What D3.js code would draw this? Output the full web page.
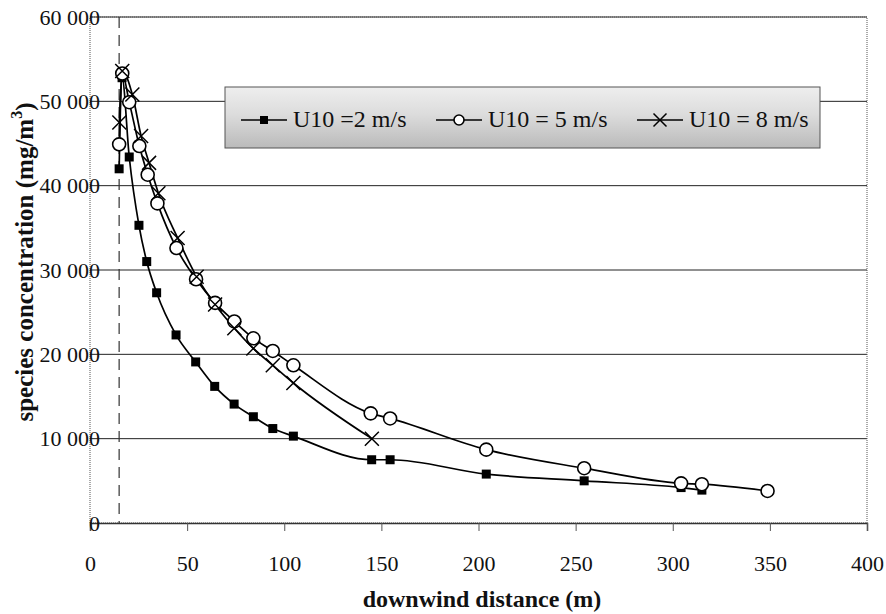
<!DOCTYPE html>
<html>
<head>
<meta charset="utf-8">
<script src="https://cdn.jsdelivr.net/npm/d3@7"></script>
<style>
  body { margin: 0; background: #fff; }
  svg { display: block; }
  svg text { font-family: "Liberation Serif", "Times New Roman", serif; }
</style>
</head>
<body>
<script>
// ---- data ----
const xTicks = [0, 50, 100, 150, 200, 250, 300, 350, 400];
const yTicks = [0, 10000, 20000, 30000, 40000, 50000, 60000];

const dist2 = [15, 16.5, 20.2, 25.2, 29.2, 34.3, 44.3, 54.4, 64.2, 74.2, 84.1, 94.1, 104.7, 145, 154.5, 204, 254.4, 304.3, 315];
const conc2 = [42000, 52800, 43400, 35300, 31000, 27300, 22300, 19100, 16200, 14100, 12600, 11200, 10300, 7500, 7500, 5800, 5000, 4200, 3900];

const dist5 = [15, 16.6, 20.2, 25.4, 29.7, 34.7, 44.5, 54.6, 64.4, 74.3, 84.1, 94.1, 104.7, 144.5, 154.5, 204, 254.4, 304.3, 315, 348.8];
const conc5 = [44900, 53300, 49900, 44700, 41300, 37900, 32600, 28900, 26100, 23900, 21900, 20400, 18700, 13000, 12400, 8700, 6500, 4700, 4600, 3800];

const dist8 = [15.1, 16.6, 21.8, 26.3, 30.4, 35.2, 45.1, 54.9, 64.4, 74.3, 84.1, 94.1, 104.7, 145.1];
const conc8 = [47500, 53600, 50800, 45900, 42700, 39100, 33800, 29200, 25900, 23100, 20700, 18700, 16600, 10000];

const sourceDistance = 15;
const seriesNames = ['U10 =2 m/s', 'U10 = 5 m/s', 'U10 = 8 m/s'];
const seriesMarkers = ['square', 'circle', 'cross'];

// ---- setup svg ----
const W = 886, H = 614;
const FONT = '"Liberation Serif", "Times New Roman", serif';
const svg = d3.select('body').append('svg')
    .attr('width', W)
    .attr('height', H)
    .attr('font-family', FONT);

const x = d3.scaleLinear().domain([0, 400]).range([90, 867]);
const y = d3.scaleLinear().domain([0, 60000]).range([523, 17]);

const fmt = d3.formatLocale({ decimal: '.', thousands: ' ', grouping: [3], currency: ['', ''] }).format(',');

// legend gradient
const defs = svg.append('defs');
const grad = defs.append('linearGradient').attr('id', 'legendFill')
    .attr('x1', 0).attr('y1', 0).attr('x2', 0).attr('y2', 1);
grad.append('stop').attr('offset', '0%').attr('stop-color', '#eeeeee');
grad.append('stop').attr('offset', '45%').attr('stop-color', '#dcdcdc');
grad.append('stop').attr('offset', '100%').attr('stop-color', '#bababa');

// horizontal gridlines
svg.append('g')
    .selectAll('line')
    .data(yTicks.filter(d => d > 0))
    .enter()
    .append('line')
    .attr('x1', x(0)).attr('x2', x(400))
    .attr('y1', d => y(d)).attr('y2', d => y(d))
    .attr('stroke', '#222')
    .attr('stroke-width', 1);

// plot border (dotted)
svg.append('rect')
    .attr('x', x(0)).attr('y', y(60000))
    .attr('width', x(400) - x(0)).attr('height', y(0) - y(60000))
    .attr('fill', 'none')
    .attr('stroke', '#555')
    .attr('stroke-dasharray', '1,1');

// x axis
const xAxis = svg.append('g')
    .attr('transform', `translate(0,${y(0)})`)
    .call(d3.axisBottom(x).tickValues(xTicks).tickSize(8).tickPadding(24).tickFormat(d3.format('d')))
    .attr('font-family', FONT)
    .attr('font-size', 22);
xAxis.select('.domain').attr('stroke', '#333').attr('stroke-width', 1.5);
xAxis.selectAll('.tick line').attr('stroke', '#555');
xAxis.selectAll('text').attr('fill', '#111');

// y axis labels (no ticks)
const yAxis = svg.append('g')
    .attr('transform', `translate(${x(0) + 10},0)`)
    .call(d3.axisLeft(y).tickValues(yTicks).tickSize(0).tickPadding(0).tickFormat(d => d === 0 ? '0' : fmt(d)))
    .attr('font-family', FONT)
    .attr('font-size', 22);
yAxis.select('.domain').remove();
yAxis.selectAll('text').attr('fill', '#111');

// dashed source line
svg.append('line')
    .attr('x1', x(sourceDistance)).attr('x2', x(sourceDistance))
    .attr('y1', y(60000)).attr('y2', y(0))
    .attr('stroke', '#333')
    .attr('stroke-width', 1.2)
    .attr('stroke-dasharray', '11,7');

// series lines
const series = [
    { dist: dist2, conc: conc2 },
    { dist: dist5, conc: conc5 },
    { dist: dist8, conc: conc8 }
];

const line = d3.line()
    .x(d => x(d[0]))
    .y(d => y(d[1]))
    .curve(d3.curveMonotoneX);

series.forEach(s => {
    const pts = s.dist.map((d, i) => [d, s.conc[i]]);
    svg.append('path')
        .attr('d', line(pts))
        .attr('fill', 'none')
        .attr('stroke', '#000')
        .attr('stroke-width', 1.7);
});

function drawMarker(g, type, cx, cy, size) {
    if (type === 'square') {
        g.append('rect')
            .attr('x', cx - size / 2).attr('y', cy - size / 2)
            .attr('width', size).attr('height', size)
            .attr('fill', '#000');
    } else if (type === 'circle') {
        g.append('circle')
            .attr('cx', cx).attr('cy', cy).attr('r', size / 2)
            .attr('fill', '#fff')
            .attr('stroke', '#000')
            .attr('stroke-width', 1.6);
    } else {
        const h = size / 2;
        g.append('path')
            .attr('d', `M${cx - h},${cy - h}L${cx + h},${cy + h}M${cx - h},${cy + h}L${cx + h},${cy - h}`)
            .attr('stroke', '#000')
            .attr('stroke-width', 1.5)
            .attr('fill', 'none');
    }
}

// markers
const markerG = svg.append('g');
[0, 1, 2].forEach(k => {
    const s = series[k];
    const size = seriesMarkers[k] === 'square' ? 9 : seriesMarkers[k] === 'circle' ? 13 : 14;
    s.dist.forEach((d, i) => drawMarker(markerG, seriesMarkers[k], x(d), y(s.conc[i]), size));
});

// legend
const lg = svg.append('g');
lg.append('rect')
    .attr('x', 225).attr('y', 87)
    .attr('width', 595).attr('height', 61)
    .attr('fill', 'url(#legendFill)')
    .attr('stroke', '#555')
    .attr('stroke-width', 1);

const legendX = [241, 436, 637];
seriesNames.forEach((name, k) => {
    const x0 = legendX[k];
    lg.append('line')
        .attr('x1', x0).attr('x2', x0 + 46)
        .attr('y1', 120).attr('y2', 120)
        .attr('stroke', '#000').attr('stroke-width', 1.6);
    const size = seriesMarkers[k] === 'square' ? 8 : seriesMarkers[k] === 'circle' ? 10 : 13;
    drawMarker(lg, seriesMarkers[k], x0 + 23, 120, size);
    lg.append('text')
        .attr('x', x0 + 52).attr('y', 127)
        .attr('font-size', 24)
        .attr('fill', '#111')
        .text(name);
});

// axis titles
svg.append('text')
    .attr('x', 482).attr('y', 607)
    .attr('text-anchor', 'middle')
    .attr('font-size', 24)
    .attr('font-weight', 'bold')
    .attr('fill', '#111')
    .text('downwind distance (m)');

const yTitle = svg.append('text')
    .attr('transform', 'translate(33,262) rotate(-90)')
    .attr('text-anchor', 'middle')
    .attr('font-size', 25)
    .attr('font-weight', 'bold')
    .attr('fill', '#111');
yTitle.append('tspan').text('species concentration (mg/m');
yTitle.append('tspan').attr('dy', -11).attr('font-size', 16).text('3');
yTitle.append('tspan').attr('dy', 11).text(')');
</script>
</body>
</html>
